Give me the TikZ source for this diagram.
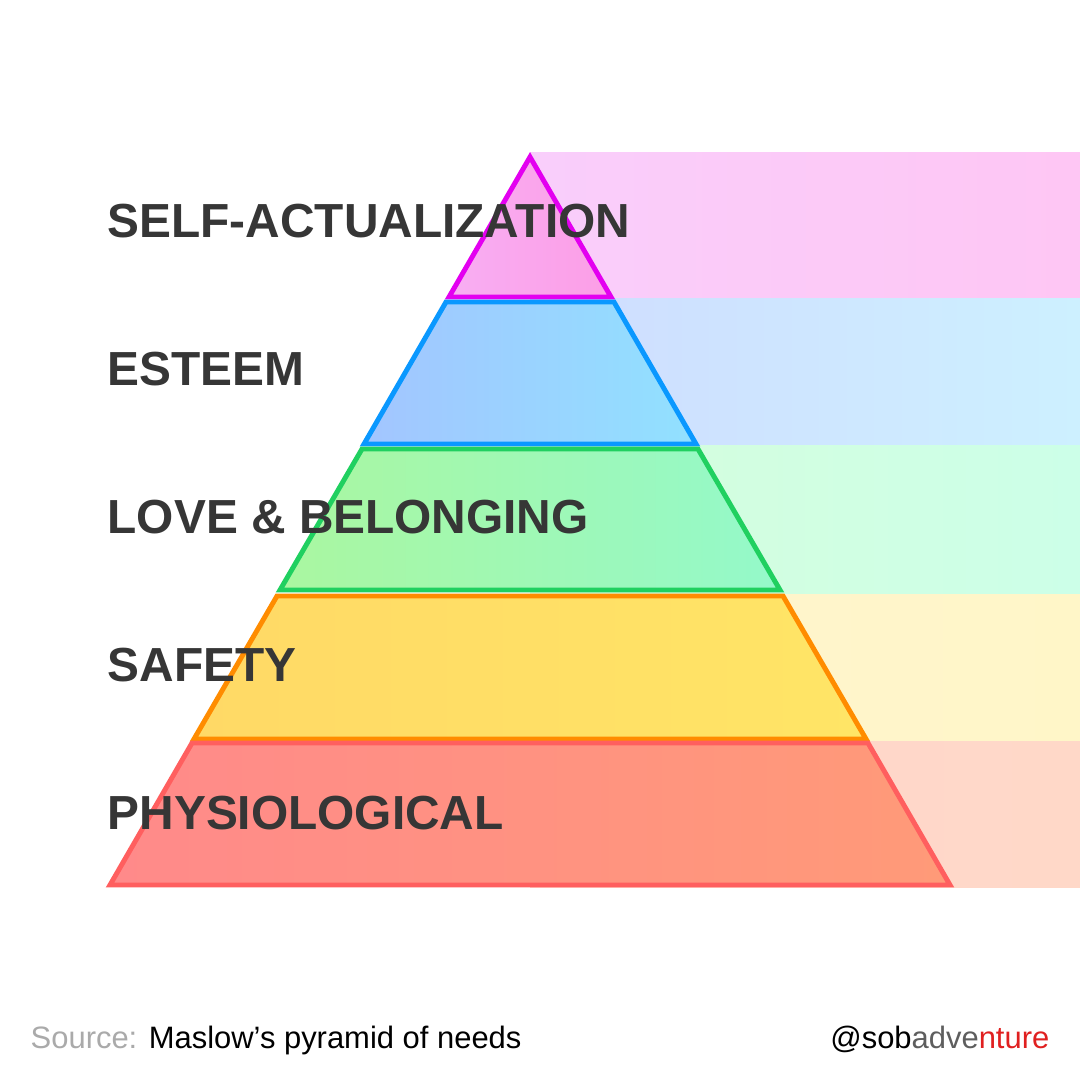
\documentclass[tikz,border=0pt]{standalone}
\usepackage{fontspec}
\setmainfont{Liberation Sans}
\usetikzlibrary{positioning}

% Farben der Stufen
\definecolor{selfLine}{HTML}{E300F0}
\definecolor{selfL}{HTML}{F8AEF3}
\definecolor{selfR}{HTML}{FC9EE6}
\definecolor{selfBgL}{HTML}{F9CEFB}
\definecolor{selfBgR}{HTML}{FEC6F4}
\definecolor{esteemLine}{HTML}{0A98FF}
\definecolor{esteemL}{HTML}{A3C5FF}
\definecolor{esteemR}{HTML}{91E1FF}
\definecolor{esteemBgL}{HTML}{CFDCFF}
\definecolor{esteemBgR}{HTML}{CDF0FF}
\definecolor{loveLine}{HTML}{20D060}
\definecolor{loveL}{HTML}{AAF7A0}
\definecolor{loveR}{HTML}{94F9CA}
\definecolor{loveBgL}{HTML}{D6FEDC}
\definecolor{loveBgR}{HTML}{CCFFE8}
\definecolor{safeLine}{HTML}{FF8C00}
\definecolor{safeL}{HTML}{FFD966}
\definecolor{safeR}{HTML}{FFE566}
\definecolor{safeBgL}{HTML}{FFF4CE}
\definecolor{safeBgR}{HTML}{FFF6C8}
\definecolor{physLine}{HTML}{FF5F5F}
\definecolor{physL}{HTML}{FF8A8A}
\definecolor{physR}{HTML}{FF9A78}
\definecolor{physBgL}{HTML}{FFD6CC}
\definecolor{physBgR}{HTML}{FFD8C8}
\definecolor{labelText}{HTML}{363636}
\definecolor{srcGray}{HTML}{AAAAAA}
\definecolor{tagRed}{HTML}{E02020}

\tikzset{
    stufe/.style={line width=1.4pt, line join=miter},
    etikett/.style={anchor=base west, inner sep=0pt, text=labelText, font=\fontsize{13.6}{15}\selectfont\bfseries}
}

\begin{document}
\begin{tikzpicture}[x=0.01cm, y=-0.01cm]
        \useasboundingbox (0, 0) rectangle (1080, 1080);
        \fill[white] (0, 0) rectangle (1080, 1080);

        % Hintergrundstreifen rechts
        \shade[left color=selfBgL, right color=selfBgR] (530, 153) rectangle (1080, 299);
        \shade[left color=esteemBgL, right color=esteemBgR] (530, 299) rectangle (1080, 446);
        \shade[left color=loveBgL, right color=loveBgR] (530, 446) rectangle (1080, 594);
        \shade[left color=safeBgL, right color=safeBgR] (530, 594) rectangle (1080, 741);
        \shade[left color=physBgL, right color=physBgR] (530, 741) rectangle (1080, 887);

        % Pyramide (Stufen)
        \draw[stufe, selfLine, left color=selfL, right color=selfR] (530, 157) -- (611, 297) -- (449, 297) -- cycle; % Spitze
        \draw[stufe, esteemLine, left color=esteemL, right color=esteemR] (446, 302) -- (614, 302) -- (696, 444) -- (364, 444) -- cycle;
        \draw[stufe, loveLine, left color=loveL, right color=loveR] (362, 449) -- (698, 449) -- (780, 590) -- (280, 590) -- cycle;
        \draw[stufe, safeLine, left color=safeL, right color=safeR] (277, 596) -- (783, 596) -- (866, 739) -- (194, 739) -- cycle;
        \draw[stufe, physLine, left color=physL, right color=physR] (192, 743) -- (868, 743) -- (950, 885) -- (110, 885) -- cycle; % Basis

        % Beschriftungen
        \node[etikett] (labSelf) at (107, 238) {SELF-ACTUALIZATION};
        \node[etikett] (labEsteem) at (107, 386) {ESTEEM};
        \node[etikett] (labLove) at (107, 533) {LOVE \& BELONGING};
        \node[etikett] (labSafety) at (107, 681) {SAFETY};
        \node[etikett] (labPhys) at (107, 829) {PHYSIOLOGICAL};

        % Fusszeile
        \node[anchor=base west, inner sep=0pt, font=\fontsize{8.8}{10}\selectfont] (quelle) at (30, 1048)
            {\textcolor{srcGray}{Source:} Maslow’s pyramid of needs};
        \node[anchor=base east, inner sep=0pt, font=\fontsize{8.8}{10}\selectfont] (handle) at (1050, 1048)
            {\textcolor{black}{@sob}\textcolor{labelText!80}{adve}\textcolor{tagRed}{nture}};

    \end{tikzpicture}
\end{document}
